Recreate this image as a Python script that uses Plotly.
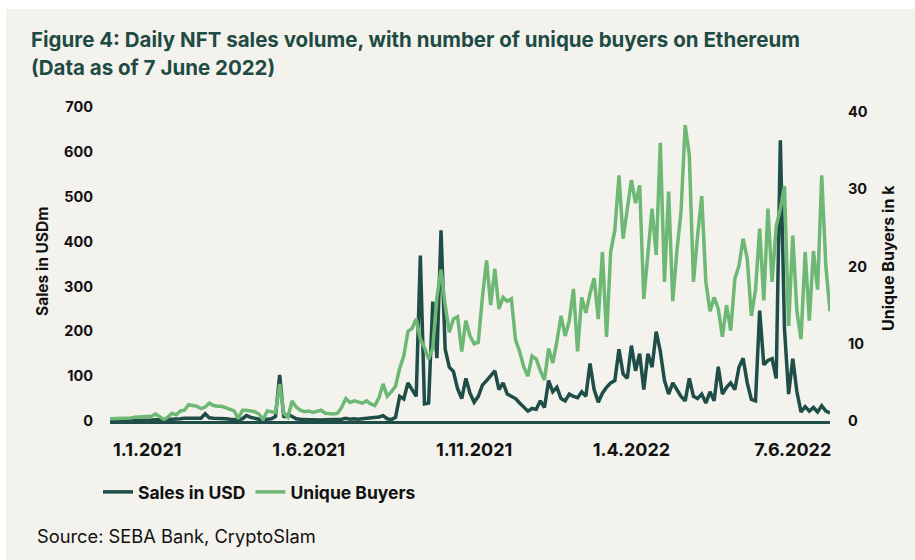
import plotly.graph_objects as go
import pandas as pd

# ---------------- data ----------------
START_DATE = "2021-01-01"
STEP_DAYS = 3

sales_usdm = [
    1, 1, 1, 1, 1, 2, 2, 2, 2, 2, 2,
    3, 3, 2, 3, 4, 4, 5, 6, 6, 5, 5, 6,
    16, 7, 6, 6, 5, 5, 4, 4, 3, 5, 12, 8,
    5, 4, 3, 4, 5, 10, 103, 8, 15, 10, 5, 4,
    3, 3, 3, 2, 2, 3, 3, 3, 3,
    4, 6, 4, 5, 4, 5, 6, 6, 7, 9, 12, 5, 3, 8,
    55, 49, 85, 70, 55, 369, 38, 40, 266, 140, 425, 160,
    120, 110, 72, 50, 95, 62, 42, 55, 80, 90, 100, 112,
    70, 85, 60, 55, 50, 40, 30, 22, 28, 26, 45, 30,
    90, 65, 75, 50, 45, 60, 55, 52, 65, 55, 128, 70,
    42, 62, 75, 85, 90, 160, 105, 95, 168, 112, 150, 70,
    150, 120, 199, 155, 90, 60, 85, 70, 55, 45, 95, 55,
    50, 60, 40, 65, 45, 121, 60, 75, 85, 70, 120, 140,
    85, 48, 45, 246, 125, 135, 139, 95, 626, 206, 60, 139,
    65, 20, 32, 22, 30, 20, 34, 22, 18,
]

unique_buyers_k = [
    0.3, 0.3, 0.3, 0.4, 0.4, 0.4, 0.5, 0.5, 0.5, 0.6, 0.6,
    0.9, 0.6, 0.2, 0.5, 1.0, 0.8, 1.3, 1.4, 2.1, 2.0, 1.9, 1.6,
    1.8, 2.3, 2.0, 1.9, 1.9, 1.7, 1.5, 1.3, 0.3, 1.4, 1.4, 1.3,
    1.2, 0.9, 0.2, 1.3, 1.2, 1.1, 4.8, 1.0, 0.5, 2.6, 1.8, 1.4,
    1.2, 1.3, 1.1, 1.3, 1.4, 1.0, 0.9, 0.9, 1.0,
    1.8, 2.9, 2.4, 2.6, 2.5, 2.3, 2.6, 2.2, 2.0, 3.0, 4.8, 3.2, 3.8, 4.5,
    6.8, 8.4, 11.6, 12.0, 13.2, 10.6, 9.5, 8.0, 9.5, 16.0, 19.6, 15.0,
    11.5, 13.2, 13.5, 9.0, 13.0, 11.0, 10.0, 10.2, 16.0, 20.8, 15.0, 19.7,
    14.5, 16.0, 15.5, 15.8, 10.5, 9.0, 7.0, 5.8, 8.4, 8.0, 6.5, 5.3,
    9.4, 7.5, 10.3, 13.6, 11.0, 13.0, 17.1, 9.0, 16.0, 14.0, 16.5, 18.5,
    13.2, 21.9, 10.9, 21.9, 24.7, 31.8, 23.6, 27.1, 31.2, 28.2, 30.5, 15.8,
    22.3, 27.5, 21.5, 36.0, 18.0, 29.7, 15.5, 22.0, 27.1, 38.3, 34.4, 18.0,
    24.0, 29.1, 18.0, 14.2, 16.0, 14.5, 10.9, 15.0, 11.7, 18.4, 20.1, 23.6,
    21.0, 13.6, 17.0, 24.9, 15.6, 27.5, 18.0, 25.2, 27.5, 30.4, 12.3, 24.0,
    14.2, 10.6, 21.9, 13.0, 22.0, 17.0, 31.8, 20.0, 14.2,
]

tick_labels = ["1.1.2021", "1.6.2021", "1.11.2021", "1.4.2022", "7.6.2022"]
# where the reference chart prints its date labels along the axis
tick_positions = ["2021-01-28", "2021-05-25", "2021-09-22", "2022-01-14", "2022-05-11"]

dates = pd.date_range(START_DATE, periods=len(sales_usdm), freq=f"{STEP_DAYS}D")

# ---------------- styling ----------------
W, H = 915, 560
ML, MR, MT, MB = 110, 85, 107, 139
PW, PH = W - ML - MR, H - MT - MB

BG = "#F4F2ED"
DARK = "#1F4D48"
GREEN = "#6DB874"
FONT = "Inter"
INK = "#111111"


def px_x(px):
    return (px - ML) / PW


def px_y(py):
    return (H - MB - py) / PH


fig = go.Figure()

fig.add_trace(go.Scatter(
    x=dates, y=sales_usdm, name="Sales in USD", mode="lines",
    line=dict(color=DARK, width=3.5), yaxis="y", legendrank=1,
))
fig.add_trace(go.Scatter(
    x=dates, y=unique_buyers_k, name="Unique Buyers", mode="lines",
    line=dict(color=GREEN, width=3.5), yaxis="y2", legendrank=2,
))

left_top = 700
right_top = 40 * PH / (PH - 5)

fig.update_layout(
    width=W, height=H,
    margin=dict(l=ML, r=MR, t=MT, b=MB, pad=0),
    paper_bgcolor=BG, plot_bgcolor=BG,
    font=dict(family=FONT, color=INK),
    showlegend=True,
    legend=dict(
        orientation="h", x=px_x(98), xanchor="left", y=px_y(492), yanchor="middle",
        font=dict(family=FONT, size=17.5, color=INK, weight="bold"),
        itemwidth=30, bgcolor="rgba(0,0,0,0)", traceorder="normal",
        tracegroupgap=0,
    ),
    xaxis=dict(
        type="date",
        range=[dates[0], dates[-1]],
        tickmode="array", tickvals=tick_positions, ticktext=tick_labels,
        showgrid=False, zeroline=False,
        showline=True, linecolor=DARK, linewidth=3,
        ticks="", ticklabelstandoff=10,
        tickfont=dict(family=FONT, size=18, color=INK, weight="bold"),
    ),
    yaxis=dict(
        range=[0, left_top], tickmode="linear", tick0=0, dtick=100,
        showgrid=False, zeroline=False, showline=False,
        ticks="", ticklabelstandoff=16,
        tickfont=dict(family=FONT, size=14.5, color=INK, weight="bold"),
    ),
    yaxis2=dict(
        range=[0, right_top], tickmode="linear", tick0=0, dtick=10,
        overlaying="y", side="right",
        showgrid=False, zeroline=False, showline=False,
        ticks="", ticklabelstandoff=17,
        tickfont=dict(family=FONT, size=14.5, color=INK, weight="bold"),
    ),
)

# white margin strips of the original page
fig.add_shape(type="rect", xref="paper", yref="paper",
              x0=px_x(-20), x1=px_x(W + 20), y0=px_y(9), y1=px_y(-20),
              fillcolor="white", line_width=0, layer="below")
fig.add_shape(type="rect", xref="paper", yref="paper",
              x0=px_x(-20), x1=px_x(6), y0=px_y(H + 20), y1=px_y(-20),
              fillcolor="white", line_width=0, layer="below")

TITLE_COLOR = "#1F4B45"
fig.add_annotation(text="<b>Figure 4: Daily NFT sales volume, with number of unique buyers on Ethereum</b>",
                   xref="paper", yref="paper", x=px_x(29), y=px_y(40),
                   xanchor="left", yanchor="middle", showarrow=False,
                   font=dict(family=FONT, size=20.5, color=TITLE_COLOR))
fig.add_annotation(text="<b>(Data as of 7 June 2022)</b>",
                   xref="paper", yref="paper", x=px_x(29), y=px_y(67),
                   xanchor="left", yanchor="middle", showarrow=False,
                   font=dict(family=FONT, size=20.5, color=TITLE_COLOR))

fig.add_annotation(text="<b>Sales in USDm</b>", textangle=-90,
                   xref="paper", yref="paper", x=px_x(42), y=px_y(262),
                   xanchor="center", yanchor="middle", showarrow=False,
                   font=dict(family=FONT, size=15.5, color=INK))
fig.add_annotation(text="<b>Unique Buyers in k</b>", textangle=-90,
                   xref="paper", yref="paper", x=px_x(888), y=px_y(258),
                   xanchor="center", yanchor="middle", showarrow=False,
                   font=dict(family=FONT, size=16, color=INK))

fig.add_annotation(text="Source: SEBA Bank, CryptoSlam",
                   xref="paper", yref="paper", x=px_x(35), y=px_y(536),
                   xanchor="left", yanchor="middle", showarrow=False,
                   font=dict(family=FONT, size=18.3, color=INK))

fig.write_html("out.html", post_script="document.body.style.margin='0';",
               config={"displayModeBar": False})
